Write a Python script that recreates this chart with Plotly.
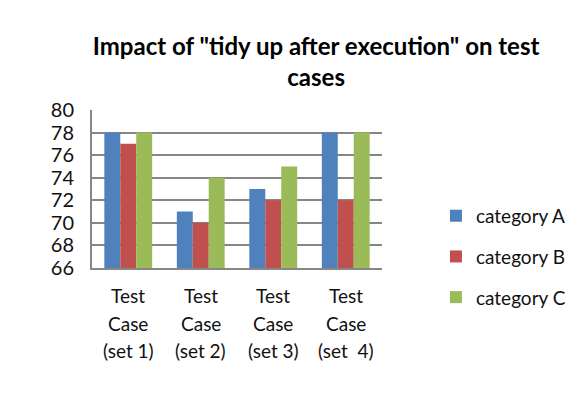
import plotly.graph_objects as go

categories = ["set 1", "set 2", "set 3", "set 4"]
tick_lines = [
    ["Test", "Test", "Test", "Test"],
    ["Case", "Case", "Case", "Case"],
    ["(set 1)", "(set 2)", "(set 3)", "(set  4)"],
]
category_a = [78, 71, 73, 78]
category_b = [77, 70, 72, 72]
category_c = [78, 74, 75, 78]
y_ticks = [66, 68, 70, 72, 74, 76, 78, 80]

FONT = "Lato, Calibri, Carlito, sans-serif"

series = [
    ("category A", category_a, "#4F81BD"),
    ("category B", category_b, "#C0504D"),
    ("category C", category_c, "#9BBB59"),
]

fig = go.Figure()
for name, vals, color in series:
    fig.add_trace(go.Bar(
        x=categories, y=vals, name=name, marker_color=color,
        marker_line_width=0, legendgroup=name,
    ))

# multi-line category labels with wide line spacing
line_y = [-0.175, -0.35, -0.52]
for row, ly in zip(tick_lines, line_y):
    for cat, txt in zip(categories, row):
        fig.add_annotation(
            x=cat, y=ly, xref="x", yref="paper", text=txt, showarrow=False,
            font=dict(family=FONT, size=19, color="#111111"),
            xanchor="center", yanchor="middle",
        )

fig.update_layout(
    width=577, height=407,
    margin=dict(l=84, r=203, t=102, b=147),
    paper_bgcolor="white", plot_bgcolor="white",
    barmode="group", bargap=0.34, bargroupgap=0,
    title=dict(
        text='Impact of "tidy up after execution" on test<br>cases',
        font=dict(family=FONT, size=24, color="#000000", weight="bold"),
        x=0.534, xref="container", xanchor="center",
        y=0.885, yref="container", yanchor="top",
    ),
    legend=dict(
        x=1.186, xanchor="left", y=0.45, yanchor="top",
        font=dict(family=FONT, size=19, color="#111111"),
        tracegroupgap=13, bgcolor="rgba(0,0,0,0)",
    ),
    font=dict(family=FONT, color="#111111"),
    showlegend=True,
)
fig.update_xaxes(
    showticklabels=False, showline=True, linecolor="#868686", linewidth=2,
    showgrid=False, ticks="",
)
fig.update_yaxes(
    range=[66, 80], tickvals=y_ticks, ticktext=[str(v) for v in y_ticks],
    showgrid=True, gridcolor="#868686", gridwidth=2,
    showline=True, linecolor="#868686", linewidth=2,
    tickfont=dict(family=FONT, size=20, color="#111111"),
    ticks="", ticklabelstandoff=12, zeroline=False,
)

fig.write_html("out.html")
